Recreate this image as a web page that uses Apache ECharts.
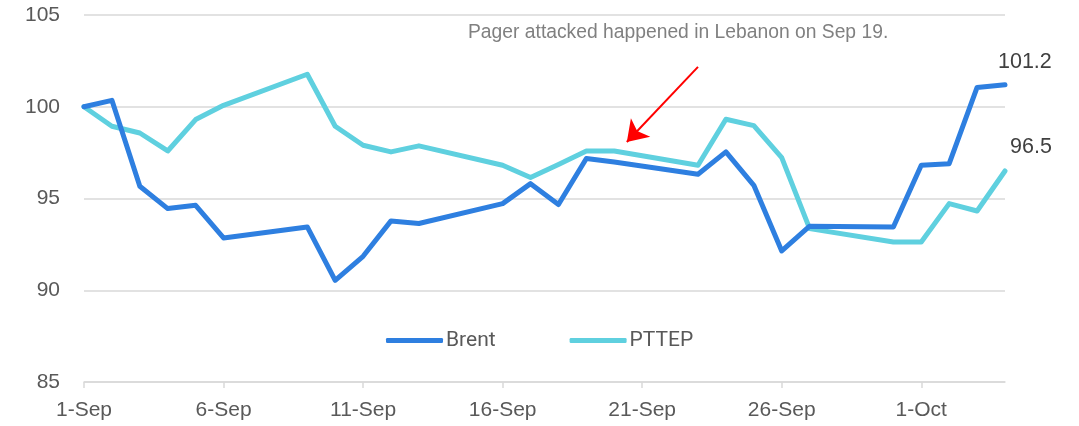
<!DOCTYPE html>
<html>
<head>
<meta charset="utf-8">
<script src="https://cdn.jsdelivr.net/npm/echarts@6/dist/echarts.min.js"></script>
<style>
  html, body { margin: 0; padding: 0; background: #fff; }
  #chart { width: 1079px; height: 426px; }
</style>
</head>
<body>
<div id="chart"></div>
<script>
// trading days, indexed to 100 on 1-Sep
const dates = [
  '2024-09-01', '2024-09-02', '2024-09-03', '2024-09-04', '2024-09-05', '2024-09-06',
  '2024-09-09', '2024-09-10', '2024-09-11', '2024-09-12', '2024-09-13',
  '2024-09-16', '2024-09-17', '2024-09-18', '2024-09-19', '2024-09-20',
  '2024-09-23', '2024-09-24', '2024-09-25', '2024-09-26', '2024-09-27',
  '2024-09-30', '2024-10-01', '2024-10-02', '2024-10-03', '2024-10-04'
]
const brent = [
  100.0, 100.35, 95.67, 94.45, 94.63, 92.85,
  93.45, 90.54, 91.85, 93.78, 93.64,
  94.72, 95.81, 94.67, 97.18, 96.99,
  96.32, 97.54, 95.72, 92.14, 93.49,
  93.45, 96.81, 96.9, 101.05, 101.2
]
const pttep = [
  100.0, 98.94, 98.57, 97.59, 99.3, 100.08,
  101.77, 98.94, 97.9, 97.54, 97.87,
  96.81, 96.14, 96.85, 97.59, 97.59,
  96.81, 99.32, 98.97, 97.23, 93.36,
  92.63, 92.63, 94.72, 94.32, 96.5
]
const monthNames = ['Jan', 'Feb', 'Mar', 'Apr', 'May', 'Jun', 'Jul', 'Aug', 'Sep', 'Oct', 'Nov', 'Dec']
const startDate = '2024-09-01'
const endDate = '2024-10-04'
const note = 'Pager attacked happened in Lebanon on Sep 19.'

const DAY = 86400000
const t0 = Date.parse(startDate)
const dayOf = d => Math.round((Date.parse(d) - t0) / DAY)
const toSeries = values => values.map((v, i) => [dayOf(dates[i]), v])

const axisFont = '"Liberation Sans", Arial, sans-serif'

function endLabel(offset) {
  return {
    show: true,
    offset,
    formatter: p => p.value[1].toFixed(1),
    fontSize: 21.5,
    color: '#404040',
    fontFamily: axisFont
  }
}

const chart = echarts.init(document.getElementById('chart'))
chart.setOption({
  backgroundColor: '#fff',
  animation: false,
  grid: { left: 84, right: 74, top: 15, bottom: 44 },
  xAxis: {
    type: 'value',
    min: 0,
    max: dayOf(endDate),
    interval: 5,
    splitLine: { show: false },
    axisLine: { lineStyle: { color: '#d9d9d9', width: 1.5 } },
    axisTick: { show: true, length: 6, lineStyle: { color: '#d9d9d9', width: 1.5 } },
    axisLabel: {
      margin: 18,
      fontSize: 21,
      color: '#595959',
      fontFamily: axisFont,
      showMaxLabel: false,
      formatter: v => {
        const d = new Date(t0 + v * DAY)
        return d.getUTCDate() + '-' + monthNames[d.getUTCMonth()]
      }
    }
  },
  yAxis: {
    type: 'value',
    min: 85,
    max: 105,
    interval: 5,
    axisLine: { show: false },
    axisTick: { show: false },
    splitLine: { lineStyle: { color: '#d9d9d9', width: 1.5 } },
    axisLabel: {
      margin: 24,
      fontSize: 21,
      color: '#595959',
      fontFamily: axisFont
    }
  },
  legend: {
    top: 325,
    left: 381,
    itemGap: 74,
    itemWidth: 57,
    itemHeight: 5,
    icon: 'roundRect',
    textStyle: { fontSize: 21, color: '#595959', fontFamily: 'Roboto, sans-serif', padding: [0, 0, 0, -2] },
    data: ['Brent', 'PTTEP']
  },
  graphic: [{
    type: 'text',
    left: 468,
    top: 23,
    style: {
      text: note,
      fontSize: 19.3,
      fill: '#808080',
      fontFamily: axisFont
    }
  }],
  series: [
    {
      name: 'Brent',
      type: 'line',
      data: toSeries(brent),
      symbol: 'none',
      lineStyle: { width: 5, color: '#2e7fe0', cap: 'round', join: 'round' },
      itemStyle: { color: '#2e7fe0' },
      endLabel: endLabel([-15, -23]),
      z: 3,
      markLine: {
        silent: true,
        label: { show: false },
        lineStyle: { color: '#ff0000', width: 2, type: 'solid' },
        data: [[
          { coord: [22.0, 102.17], symbol: 'none' },
          { coord: [19.45, 98.08], symbol: 'arrow', symbolSize: 20 }
        ]]
      }
    },
    {
      name: 'PTTEP',
      type: 'line',
      data: toSeries(pttep),
      symbol: 'none',
      lineStyle: { width: 5, color: '#5fd0df', cap: 'round', join: 'round' },
      itemStyle: { color: '#5fd0df' },
      endLabel: endLabel([-3, -23.5]),
      z: 2
    }
  ]
})
</script>
</body>
</html>
